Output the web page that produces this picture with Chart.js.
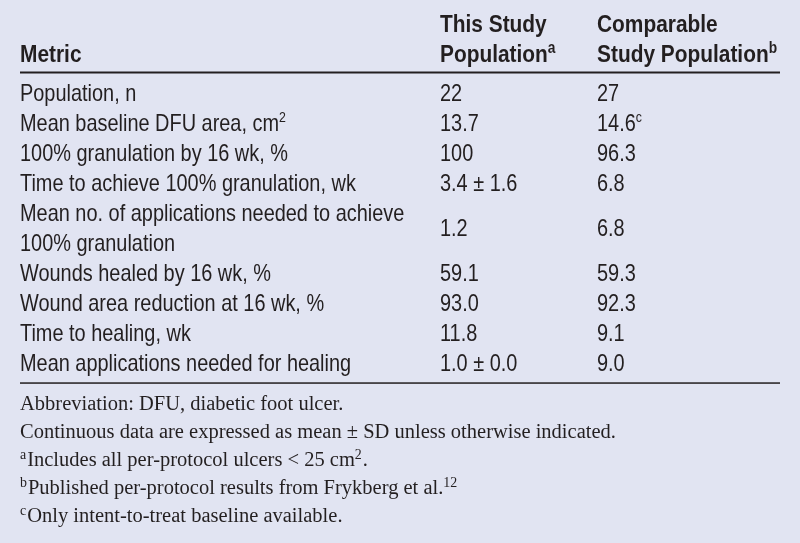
<!DOCTYPE html>
<html>
<head>
<meta charset="utf-8">
<script src="https://cdn.jsdelivr.net/npm/chart.js@4.4.1/dist/chart.umd.min.js"></script>
<style>
  html, body { margin: 0; padding: 0; background: #e1e4f2; }
  #wrap { width: 800px; height: 543px; }
</style>
</head>
<body>
<div id="wrap"><canvas id="tbl"></canvas></div>
<script>
// table data, ^{..} marks a superscript
const columnHeaders = [
    ['Metric'],
    ['This Study', 'Population^{a}'],
    ['Comparable', 'Study Population^{b}']
];
const metricLabels = [
    ['Population, n'],
    ['Mean baseline DFU area, cm^{2}'],
    ['100% granulation by 16 wk, %'],
    ['Time to achieve 100% granulation, wk'],
    ['Mean no. of applications needed to achieve', '100% granulation'],
    ['Wounds healed by 16 wk, %'],
    ['Wound area reduction at 16 wk, %'],
    ['Time to healing, wk'],
    ['Mean applications needed for healing']
];
const thisStudy = ['22', '13.7', '100', '3.4 ± 1.6', '1.2', '59.1', '93.0', '11.8', '1.0 ± 0.0'];
const comparableStudy = ['27', '14.6^{c}', '96.3', '6.8', '6.8', '59.3', '92.3', '9.1', '9.0'];
const footnotes = [
    'Abbreviation: DFU, diabetic foot ulcer.',
    'Continuous data are expressed as mean ± SD unless otherwise indicated.',
    '^{a}Includes all per-protocol ulcers < 25 cm^{2}.',
    '^{b}Published per-protocol results from Frykberg et al.^{12}',
    '^{c}Only intent-to-treat baseline available.'
];

// one category slot per printed line
const slotLabels = [];
const slotStart = [];
metricLabels.forEach(lines => {
    slotStart.push(slotLabels.length);
    lines.forEach(l => slotLabels.push(l));
});

const ink = '#231f20';
const colX = [20, 440, 597];
const sans = { family: 'Liberation Sans, Arial, sans-serif', size: 24, weight: 'normal', hscale: 0.83, sup: 0.62 };
const sansBold = { family: 'Liberation Sans, Arial, sans-serif', size: 24, weight: 'bold', hscale: 0.87, sup: 0.66 };
const serif = { family: 'Liberation Serif, Times New Roman, serif', size: 20.5, weight: 'normal', hscale: 1.0, sup: 0.68 };

function drawRich(ctx, str, x, y, f) {
    const parts = str.split(/(\^\{[^}]*\})/).filter(p => p.length);
    let cx = x;
    parts.forEach(p => {
        let sup = p.startsWith('^{');
        let txt = sup ? p.slice(2, -1) : p;
        let size = sup ? f.size * f.sup : f.size;
        ctx.save();
        ctx.font = f.weight + ' ' + size + 'px ' + f.family;
        ctx.translate(cx, sup ? y - f.size * 0.36 : y);
        ctx.scale(f.hscale, 1);
        ctx.fillText(txt, 0, 0);
        ctx.restore();
        ctx.font = f.weight + ' ' + size + 'px ' + f.family;
        cx += ctx.measureText(txt).width * f.hscale + (sup ? 1 : 0);
    });
}

const tablePlugin = {
    id: 'tablePlugin',
    beforeDraw(chart) {
        const { ctx, width, height } = chart;
        ctx.save();
        ctx.fillStyle = '#e1e4f2';
        ctx.fillRect(0, 0, width, height);
        ctx.restore();
    },
    afterDraw(chart) {
        const { ctx, chartArea } = chart;
        const y = chart.scales.y;
        const top = chartArea.top, bottom = chartArea.bottom;
        ctx.save();
        ctx.fillStyle = ink;
        ctx.textBaseline = 'alphabetic';
        ctx.textAlign = 'left';

        // headers, last line sits just above the rule
        columnHeaders.forEach((lines, c) => {
            lines.forEach((l, i) => {
                const fromBottom = lines.length - 1 - i;
                drawRich(ctx, l, colX[c], top - 16 - fromBottom * 29.5, sansBold);
            });
        });

        // rules
        ctx.fillRect(20, top - 6, 760, 2);
        ctx.fillRect(20, bottom + 4.8, 760, 1.5);

        // body rows
        metricLabels.forEach((lines, r) => {
            const s0 = slotStart[r];
            lines.forEach((l, i) => {
                drawRich(ctx, l, colX[0], y.getPixelForValue(s0 + i) + 8.5, sans);
            });
            const mid = (y.getPixelForValue(s0) + y.getPixelForValue(s0 + lines.length - 1)) / 2;
            drawRich(ctx, thisStudy[r], colX[1], mid + 8.5, sans);
            drawRich(ctx, comparableStudy[r], colX[2], mid + 8.5, sans);
        });

        // footnotes
        footnotes.forEach((t, i) => {
            drawRich(ctx, t, 20, bottom + 32 + i * 28.2, serif);
        });
        ctx.restore();
    }
};

new Chart(document.getElementById('tbl'), {
    type: 'bar',
    data: {
        labels: slotLabels,
        datasets: [{ data: slotLabels.map(() => 0), backgroundColor: 'rgba(0,0,0,0)' }]
    },
    options: {
        indexAxis: 'y',
        responsive: true,
        maintainAspectRatio: false,
        animation: { duration: 0 },
        layout: { padding: { top: 77.5, bottom: 165.5, left: 0, right: 0 } },
        plugins: { legend: { display: false }, tooltip: { enabled: false } },
        scales: {
            y: { type: 'category', offset: true, display: false },
            x: { display: false, min: 0, max: 1 }
        }
    },
    plugins: [tablePlugin]
});
</script>
</body>
</html>
